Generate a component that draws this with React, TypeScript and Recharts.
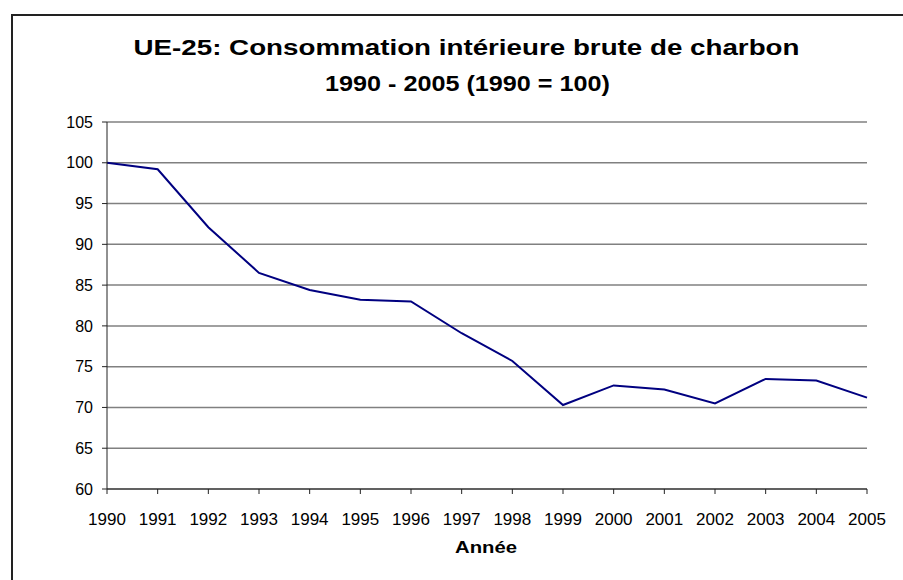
import React from "react";
import { LineChart, Line, XAxis, YAxis, CartesianGrid, Customized } from "recharts";

const years: number[] = [1990, 1991, 1992, 1993, 1994, 1995, 1996, 1997, 1998, 1999, 2000, 2001, 2002, 2003, 2004, 2005];
const indexValues: number[] = [100, 99.2, 92.1, 86.5, 84.4, 83.2, 83.0, 79.1, 75.7, 70.3, 72.7, 72.2, 70.5, 73.5, 73.3, 71.2];
const yTicks: number[] = [60, 65, 70, 75, 80, 85, 90, 95, 100, 105];
const titleLine1 = "UE-25: Consommation intérieure brute de charbon";
const titleLine2 = "1990 - 2005 (1990 = 100)";
const xAxisTitle = "Année";

const data = years.map((y, i) => ({ year: y, value: indexValues[i] }));

const FONT = "'Liberation Sans', Arial, Helvetica, sans-serif";

const Titles = () => (
  <g>
    <line x1={11} y1={15} x2={903} y2={15} stroke="#222" strokeWidth={2} />
    <line x1={12} y1={14} x2={12} y2={580} stroke="#222" strokeWidth={2} />
    <text x={466.5} y={54.5} textAnchor="middle" fontFamily={FONT} fontWeight="bold" fontSize={22} fill="#000" textLength={666} lengthAdjust="spacingAndGlyphs">
      {titleLine1}
    </text>
    <text x={467.5} y={91} textAnchor="middle" fontFamily={FONT} fontWeight="bold" fontSize={22} fill="#000" textLength={285} lengthAdjust="spacingAndGlyphs">
      {titleLine2}
    </text>
    <text x={486} y={553} textAnchor="middle" fontFamily={FONT} fontWeight="bold" fontSize={17} fill="#000" textLength={62} lengthAdjust="spacingAndGlyphs">
      {xAxisTitle}
    </text>
  </g>
);

export default function App() {
  return (
    <div style={{ width: 903, height: 580, overflow: "hidden", background: "#fff" }}>
      <style>{`html, body { margin: 0; padding: 0; overflow: hidden; background: #fff; }`}</style>
      <LineChart width={903} height={580} data={data} margin={{ top: 122, right: 36, left: 47, bottom: 51 }}>
        <CartesianGrid vertical={false} stroke="#808080" strokeWidth={1.5} />
        <XAxis
          dataKey="year"
          type="number"
          domain={[1990, 2005]}
          ticks={years}
          interval={0}
          height={40}
          tickSize={5}
          tickMargin={19}
          stroke="#222"
          tick={{ fill: "#000", fontSize: 17, fontFamily: FONT }}
          allowDecimals={false}
        />
        <YAxis
          domain={[60, 105]}
          ticks={yTicks}
          interval={0}
          width={60}
          tickSize={5}
          tickMargin={9}
          stroke="#222"
          tick={{ fill: "#000", fontSize: 16, fontFamily: FONT }}
        />
        <Line
          type="linear"
          dataKey="value"
          stroke="#000080"
          strokeWidth={2}
          dot={false}
          activeDot={false}
          isAnimationActive={false}
        />
        <Customized component={Titles} />
      </LineChart>
    </div>
  );
}
